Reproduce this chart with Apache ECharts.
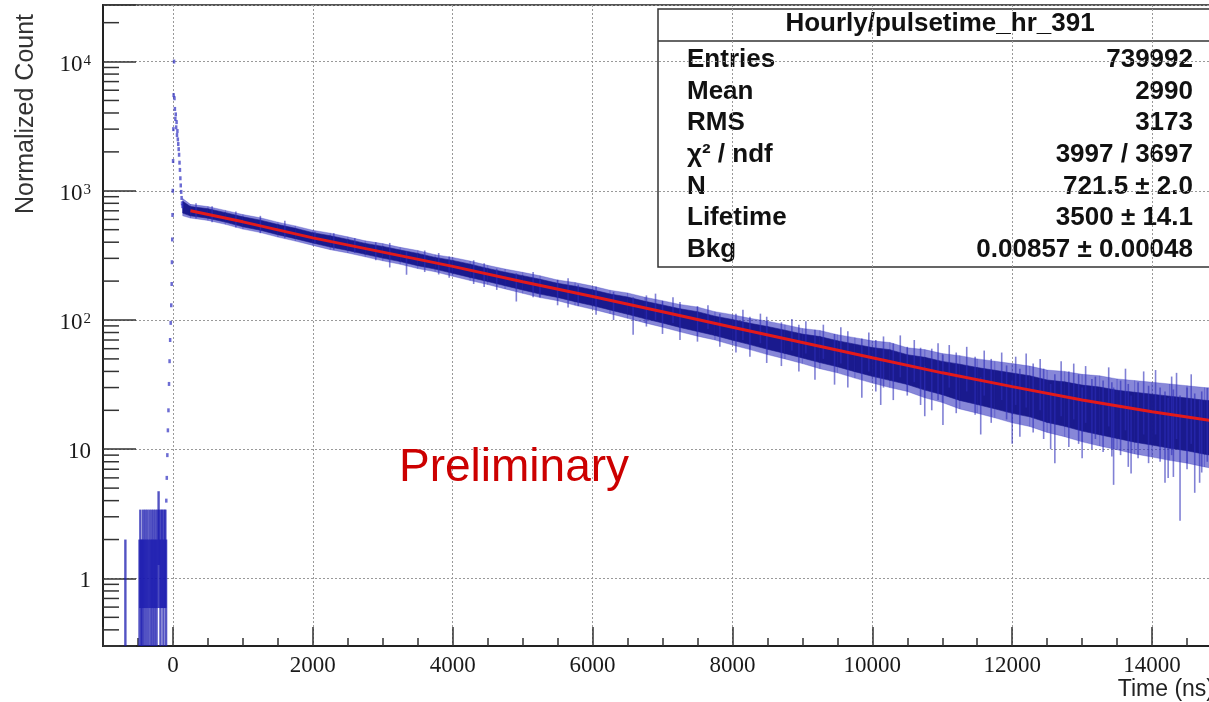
<!DOCTYPE html>
<html lang="en">
<head>
<meta charset="UTF-8">
<title>Hourly/pulsetime_hr_391</title>
<style>html,body{margin:0;padding:0;background:#fff;}</style>
</head>
<body>
<div id="main" style="width:1209px;height:702px"></div>
<script src="https://cdn.jsdelivr.net/npm/echarts@6/dist/echarts.min.js"></script>
<script>
// axis ranges (ns / normalized count)
const xMin = -1000, xMax = 15000;
const yMin = 0.3, yMax = 27400;

// sparse bins before the pulse: [time, error bar low, error bar high]
const preBins = [
  [-680, 0.3, 2], [-478, 0.3, 2], [-466, 0.59, 3.41], [-452, 0.3, 2], [-438, 0.3, 2],
  [-426, 0.59, 3.41], [-410, 0.3, 2], [-396, 0.59, 3.41], [-380, 0.3, 2], [-366, 0.59, 3.41],
  [-350, 0.3, 2], [-334, 0.59, 3.41], [-318, 0.3, 2], [-304, 0.59, 3.41], [-290, 0.3, 2],
  [-276, 0.59, 3.41], [-262, 0.3, 2], [-248, 0.59, 3.41], [-234, 0.3, 2], [-220, 0.59, 3.41],
  [-205, 1.27, 4.73], [-192, 0.59, 3.41], [-178, 0.3, 2], [-164, 0.59, 3.41], [-150, 0.59, 3.41],
  [-136, 0.3, 2], [-122, 0.59, 3.41], [-108, 0.59, 3.41], [-98, 0.3, 2]
];

// rising edge and prompt peak
const peakT = [-95, -88, -80, -72, -64, -56, -48, -40, -32, -24, -18, -14, -10, -6, -2, 2, 6, 10,
  16, 22, 28, 34, 40, 46, 52, 58, 64, 70, 76, 82, 88, 94, 100, 106, 112, 118, 124, 130, 136];
const peakV = [4, 6, 9, 14, 20, 32, 48, 70, 95, 130, 190, 280, 420, 650, 1000, 1700, 3000, 5500,
  10000, 5200, 4300, 3600, 3900, 3100, 3400, 2700, 2900, 2500, 2300, 2100, 1900, 1650, 1450, 1250,
  1100, 980, 880, 800, 760];

// decay region: extent of the dense histogram band
const bandT = [140, 250, 500, 750, 1000, 1250, 1500, 1750, 2000, 2250, 2500, 2750, 3000, 3250,
  3500, 3750, 4000, 4250, 4500, 4750, 5000, 5250, 5500, 5750, 6000, 6250, 6500, 6750, 7000, 7250,
  7500, 7750, 8000, 8250, 8500, 8750, 9000, 9250, 9500, 9750, 10000, 10250, 10500, 10750, 11000,
  11250, 11500, 11750, 12000, 12250, 12500, 12750, 13000, 13250, 13500, 13750, 14000, 14250,
  14500, 14750, 15000];
const bandUp = [870, 785, 755, 705, 655, 618, 572, 535, 495, 470, 440, 410, 390, 365, 345, 320,
  305, 286, 265, 248, 234, 220, 204, 195, 183, 170, 162, 150, 141, 132, 126, 116, 110, 103, 98, 92,
  86, 83, 77, 73, 69, 67, 61, 59, 55, 53, 50, 48, 46, 44, 41, 40, 38, 37, 35, 34, 33, 32, 31, 30, 29.5];
const bandLo = [640, 615, 590, 550, 505, 475, 438, 408, 378, 350, 330, 308, 287, 270, 250, 236,
  218, 202, 188, 174, 161, 149, 141, 130, 121, 112, 103, 95, 88, 81, 75, 70, 64, 59, 54, 50, 46, 42,
  39, 35.5, 32.5, 30, 28, 25, 23, 20.5, 19, 17.5, 16, 15, 13.5, 12.5, 11.4, 10.6, 9.9, 9.2, 8.7,
  8.2, 7.8, 7.3, 6.9];

// single bins sticking out of the band: [time, low, high]
const spikes = [
  [330, 610, 800], [560, 570, 760], [900, 520, 690], [1250, 470, 640], [1600, 430, 585],
  [2030, 390, 483], [2300, 350, 470], [2600, 330, 430], [2900, 290, 400], [3100, 255, 395],
  [3340, 224, 340], [3600, 235, 345], [3800, 225, 330], [3950, 212, 310], [4300, 190, 290],
  [4450, 180, 275], [4630, 171, 250], [4910, 139, 230], [5150, 150, 235], [5247, 150, 206],
  [5500, 130, 205], [5650, 125, 210], [5795, 128, 188], [6050, 110, 182], [6300, 100, 165],
  [6580, 77, 150], [6770, 89, 155], [6900, 100, 160], [7000, 78, 140], [7150, 95, 150],
  [7250, 70, 138], [7500, 68, 128], [7650, 85, 130], [7820, 62, 112], [8050, 56, 112],
  [8150, 70, 120], [8250, 52, 106], [8400, 66, 112], [8490, 46.5, 106], [8700, 44, 96],
  [8850, 58, 102], [8950, 40, 92], [9050, 55, 98], [9180, 34.5, 84], [9300, 50, 92],
  [9460, 31.6, 78], [9550, 46, 88], [9650, 30, 82], [9850, 25, 72], [9950, 40, 80],
  [10050, 28, 70], [10120, 22, 50], [10160, 30, 74.6], [10300, 24, 66], [10400, 36, 76],
  [10500, 26, 62], [10600, 33, 70], [10690, 22, 61], [10750, 18, 44], [10850, 20, 60],
  [10940, 24, 66], [11010, 15.4, 54], [11100, 30, 64], [11200, 19, 56], [11350, 28, 62],
  [11470, 18.5, 52], [11550, 13, 36], [11600, 26, 58], [11700, 16, 50], [11850, 24, 56],
  [11920, 17, 44.5], [12000, 11, 34], [12050, 22, 52], [12110, 12.5, 42], [12200, 21, 55],
  [12300, 13.5, 46], [12400, 20, 50], [12450, 12, 42], [12550, 10, 32], [12610, 7.8, 38],
  [12700, 18, 48], [12810, 10.4, 40], [12880, 17, 46], [12950, 11, 38], [13000, 8.5, 30],
  [13050, 16, 44], [13140, 10, 35], [13190, 12, 36.5], [13300, 9.5, 34], [13380, 15, 43],
  [13425, 8.8, 33], [13450, 5.3, 30], [13550, 9, 34], [13620, 14, 42], [13660, 7.3, 32],
  [13700, 6.5, 26], [13800, 8.5, 33], [13880, 13, 40], [13950, 7.8, 31], [14050, 13, 41],
  [14115, 8, 30], [14185, 5.5, 28], [14230, 6, 25], [14280, 9, 36.5], [14305, 6.1, 29],
  [14350, 12, 39], [14400, 2.8, 26], [14500, 7, 30], [14560, 11, 38], [14610, 4.6, 27],
  [14680, 5.5, 24], [14710, 6.6, 28], [14790, 8, 29.8], [14850, 11, 36], [14900, 6, 27],
  [14950, 10, 35]
];

// exponential fit curve
const fitT = [250, 1000, 2000, 3000, 4000, 5000, 6000, 7000, 8000, 9000, 10000, 11000, 12000,
  13000, 14000, 15000];
const fitV = [700, 575, 432, 335, 260, 198, 152, 116, 88, 67, 51, 39, 30.5, 24, 19.5, 16.2];

// stats box
const statsTitle = 'Hourly/pulsetime_hr_391';
const statsNames = ['Entries', 'Mean', 'RMS', 'χ² / ndf', 'N', 'Lifetime', 'Bkg'];
const statsValues = ['739992', '2990', '3173', '3997 / 3697', '721.5 ± 2.0', '3500 ± 14.1',
  '0.00857 ± 0.00048'];

// log-axis minor ticks at 2..9 x 10^k
const yMinorTicks = [];
for (let k = -1; k <= 4; k++) {
  for (let m = 2; m <= 9; m++) {
    const v = m * Math.pow(10, k);
    if (v >= yMin && v <= yMax) yMinorTicks.push([xMin, v]);
  }
}

const chart = echarts.init(document.getElementById('main'));

const serif = 'Liberation Serif';
const sans = 'Liberation Sans';

function errBar(color, width) {
  return function (params, api) {
    const p1 = api.coord([api.value(0), api.value(1)]);
    const p2 = api.coord([api.value(0), api.value(2)]);
    return {
      type: 'line',
      shape: { x1: p1[0], y1: p1[1], x2: p2[0], y2: p2[1] },
      style: { stroke: color, lineWidth: width }
    };
  };
}

const statsEls = [
  { type: 'rect', shape: { x: 658, y: 9, width: 600, height: 258 },
    style: { fill: '#fff', stroke: '#333', lineWidth: 1.5 } },
  { type: 'line', shape: { x1: 658, y1: 41, x2: 1258, y2: 41 },
    style: { stroke: '#333', lineWidth: 1.5 } },
  { type: 'text', x: 940, y: 24,
    style: { text: statsTitle, font: 'bold 26px ' + sans, fill: '#111', align: 'center', verticalAlign: 'middle' } }
];
statsNames.forEach(function (name, i) {
  const y = 60 + i * 31.6;
  statsEls.push({ type: 'text', x: 687, y: y,
    style: { text: name, font: 'bold 26px ' + sans, fill: '#111', align: 'left', verticalAlign: 'middle' } });
  statsEls.push({ type: 'text', x: 1193, y: y,
    style: { text: statsValues[i], font: 'bold 26px ' + sans, fill: '#111', align: 'right', verticalAlign: 'middle' } });
});

const option = {
  animation: false,
  backgroundColor: '#fff',
  grid: {
    left: 103, right: -13, top: 5, bottom: 56,
    show: true, borderColor: '#555', borderWidth: 2,
    outerBoundsMode: 'none'
  },
  xAxis: {
    type: 'value',
    min: xMin, max: xMax,
    splitNumber: 8,
    axisLine: { onZero: false, lineStyle: { color: '#222', width: 2 } },
    axisTick: { inside: true, length: 19, lineStyle: { color: '#333', width: 1.5 } },
    minorTick: { show: true, splitNumber: 4, length: 8, lineStyle: { color: '#333', width: 1.5 } },
    splitLine: { show: true, lineStyle: { color: '#999', width: 1, type: [2, 2] } },
    axisLabel: {
      margin: 8, color: '#1a1a1a', fontFamily: serif, fontSize: 23,
      formatter: function (v) { return v % 2000 === 0 ? String(v) : ''; }
    }
  },
  yAxis: {
    type: 'log',
    min: yMin, max: yMax,
    axisLine: { show: true, onZero: false, lineStyle: { color: '#222', width: 2 } },
    axisTick: { inside: true, length: 33, lineStyle: { color: '#333', width: 1.5 } },
    splitLine: { show: true, lineStyle: { color: '#999', width: 1, type: [2, 2] } },
    axisLabel: {
      margin: 12, color: '#1a1a1a', fontFamily: serif, fontSize: 23, padding: [6, 0, 0, 0],
      formatter: function (v) {
        const l = Math.log10(v);
        const e = Math.round(l);
        if (Math.abs(l - e) > 1e-6) return '';
        if (e === 0) return '1';
        if (e === 1) return '10';
        return '10{sup|' + e + '}';
      },
      rich: {
        sup: { fontFamily: serif, fontSize: 15, color: '#1a1a1a', verticalAlign: 'top', padding: [0, 0, 0, 1] }
      }
    }
  },
  graphic: [
    { type: 'text', x: 26, y: 114, rotation: Math.PI / 2,
      style: { text: 'Normalized Count', font: '25px ' + sans, fill: '#333', align: 'center', verticalAlign: 'middle' } },
    { type: 'text', x: 1214, y: 690,
      style: { text: 'Time (ns)', font: '23px ' + sans, fill: '#222', align: 'right', verticalAlign: 'middle' } },
    { type: 'text', x: 399, y: 468, z: 50,
      style: { text: 'Preliminary', font: '46px ' + sans, fill: '#cc0000', align: 'left', verticalAlign: 'middle' } },
    { type: 'group', z: 100, children: statsEls }
  ],
  series: [
    {
      // histogram band
      type: 'custom',
      silent: true,
      data: bandT.map(function (t, i) { return [t, bandLo[i], bandUp[i]]; }),
      renderItem: function (params, api) {
        const i = params.dataIndex;
        if (i >= bandT.length - 1) return null;
        const u1 = api.coord([bandT[i], bandUp[i]]);
        const u2 = api.coord([bandT[i + 1], bandUp[i + 1]]);
        const l1 = api.coord([bandT[i], bandLo[i]]);
        const l2 = api.coord([bandT[i + 1], bandLo[i + 1]]);
        const f = 0.16;
        const c1 = [u1[0], u1[1] + (l1[1] - u1[1]) * f];
        const c2 = [u2[0], u2[1] + (l2[1] - u2[1]) * f];
        const d1 = [l1[0], l1[1] - (l1[1] - u1[1]) * f];
        const d2 = [l2[0], l2[1] - (l2[1] - u2[1]) * f];
        return {
          type: 'group',
          children: [
            { type: 'polygon', shape: { points: [u1, u2, l2, l1] },
              style: { fill: 'rgba(55,55,190,0.6)', stroke: 'rgba(55,55,190,0.6)', lineWidth: 0.5 } },
            { type: 'polygon', shape: { points: [c1, c2, d2, d1] },
              style: { fill: '#1a1a8e', stroke: '#1a1a8e', lineWidth: 0.6 } }
          ]
        };
      },
      z: 2
    },
    {
      type: 'custom',
      silent: true,
      data: spikes,
      renderItem: errBar('rgba(45,45,185,0.6)', 1.6),
      z: 3
    },
    {
      type: 'custom',
      silent: true,
      data: preBins,
      renderItem: errBar('rgba(25,25,175,0.75)', 2.4),
      z: 3
    },
    {
      type: 'scatter',
      silent: true,
      data: peakT.map(function (t, i) { return [t, peakV[i]]; }),
      symbol: 'rect',
      symbolSize: [2.5, 4],
      itemStyle: { color: 'rgba(40,40,190,0.85)' },
      z: 3
    },
    {
      type: 'line',
      silent: true,
      data: fitT.map(function (t, i) { return [t, fitV[i]]; }),
      showSymbol: false,
      lineStyle: { color: '#e31a1a', width: 3 },
      z: 4
    },
    {
      // minor ticks of the log axis
      type: 'custom',
      silent: true,
      data: yMinorTicks,
      renderItem: function (params, api) {
        const p = api.coord([api.value(0), api.value(1)]);
        return {
          type: 'line',
          shape: { x1: p[0], y1: p[1], x2: p[0] + 16, y2: p[1] },
          style: { stroke: '#333', lineWidth: 1.5 }
        };
      },
      z: 5
    }
  ]
};

chart.setOption(option);
</script>
</body>
</html>
